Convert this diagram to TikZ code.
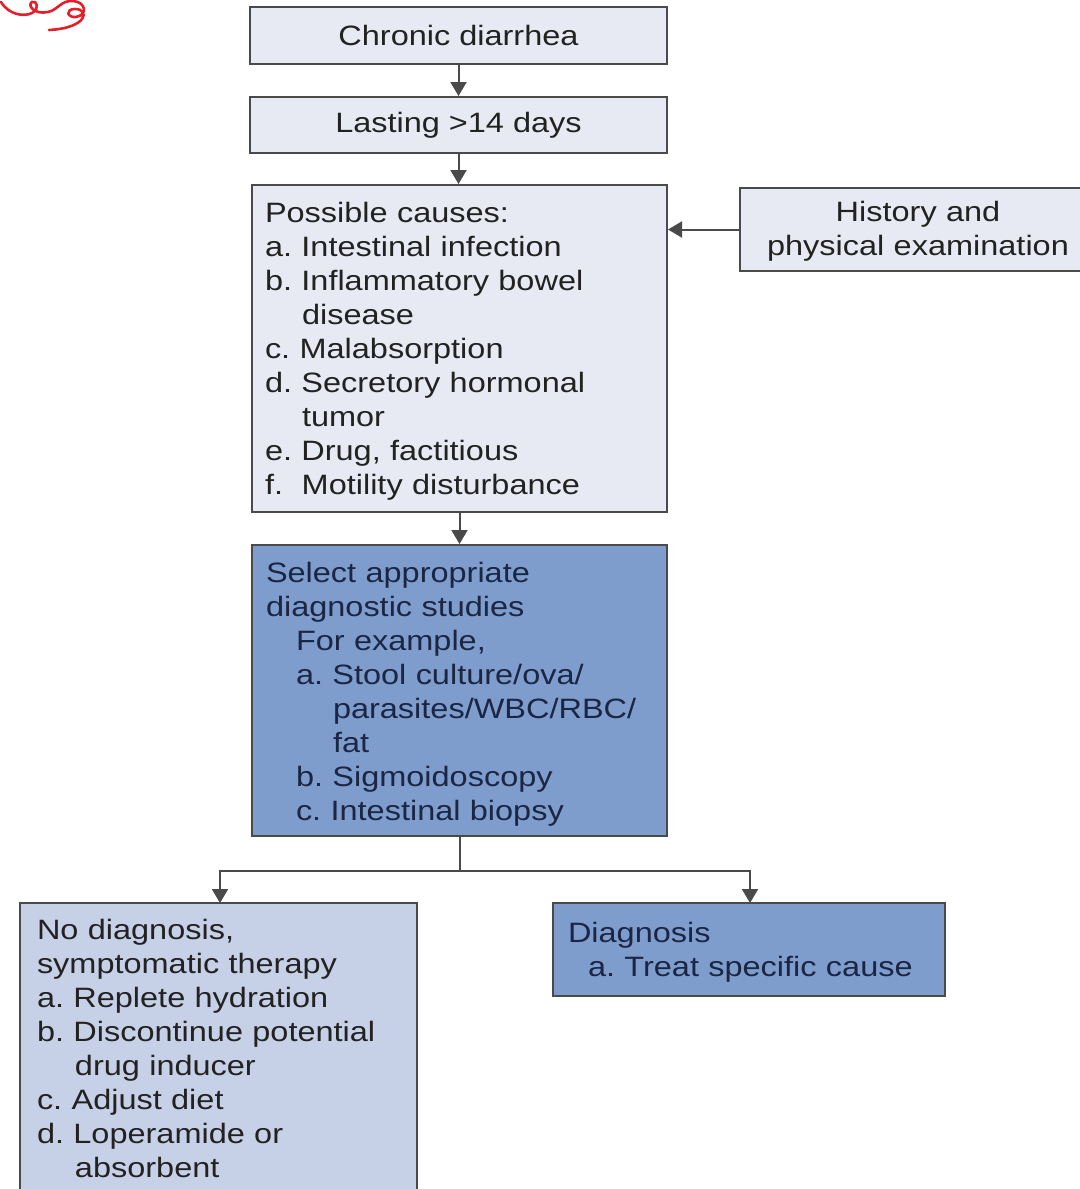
\documentclass[tikz,border=0pt]{standalone}
\usepackage{fontspec}
\setmainfont[FakeStretch=1.16]{Liberation Sans}
\usetikzlibrary{arrows.meta}
\definecolor{lightbox}{HTML}{E7EAF3}
\definecolor{darkbox}{HTML}{7F9DCC}
\definecolor{midbox}{HTML}{C6D0E7}
\definecolor{bordercol}{HTML}{4A4A4A}
\definecolor{txtgray}{HTML}{222222}
\definecolor{txtnavy}{HTML}{1A2644}
\definecolor{scribble}{HTML}{E0202A}
\frenchspacing
\newcommand{\topstrut}[1]{\rule{0pt}{#1}}
\begin{document}
\begin{tikzpicture}[x=0.5pt,y=-0.5pt,
  basebox/.style={draw=bordercol, line width=1pt, inner ysep=0pt,
    font=\fontsize{14pt}{17pt}\selectfont},
  graybox/.style={basebox, fill=lightbox, text=txtgray},
  bluebox/.style={basebox, fill=darkbox, text=txtnavy},
  paleblue/.style={basebox, fill=midbox, text=txtgray},
  arr/.style={draw=bordercol, line width=1pt, -{Triangle[width=8pt,length=7pt]}},
  conn/.style={draw=bordercol, line width=1pt}]
\useasboundingbox (0,0) rectangle (1080,1189);
\clip (0,0) rectangle (1080,1189);

% boxes
\node[graybox, inner xsep=0pt, minimum width=208.5pt, minimum height=28.5pt] (cd) at (458.5,35.5) {Chronic diarrhea};
\node[graybox, inner xsep=0pt, minimum width=208.5pt, minimum height=28pt] (ld) at (458.5,125) {\raisebox{-0.8pt}{Lasting >14 days}};
\node[graybox, inner xsep=6.5pt, text width=194.5pt, minimum height=163.5pt, align=left] (pc) at (459.5,348.5)
 {\topstrut{13.2pt}Possible causes:\\
  a. Intestinal infection\\
  b. Inflammatory bowel\\
  \hspace*{18.5pt}disease\\
  c. Malabsorption\\
  d. Secretory hormonal\\
  \hspace*{18.5pt}tumor\\
  e. Drug, factitious\\
  f.\ \ Motility disturbance};
\node[graybox, inner xsep=0pt, text width=178pt, minimum height=41.5pt, align=center] (hist) at (918,229.5)
 {\topstrut{12.2pt}History and\\physical examination};
\node[bluebox, inner xsep=7pt, text width=193.5pt, minimum height=145.5pt, align=left] (sel) at (459.5,690.5)
 {\topstrut{14.2pt}Select appropriate\\
  diagnostic studies\\
  \hspace*{15pt}For example,\\
  \hspace*{15pt}a. Stool culture/ova/\\
  \hspace*{33.5pt}parasites/WBC/RBC/\\
  \hspace*{33.5pt}fat\\
  \hspace*{15pt}b. Sigmoidoscopy\\
  \hspace*{15pt}c. Intestinal biopsy};
\node[paleblue, inner xsep=8.5pt, text width=181.5pt, minimum height=148.5pt, align=left] (nd) at (218.5,1051.5)
 {No diagnosis,\\
  symptomatic therapy\\
  a. Replete hydration\\
  b. Discontinue potential\\
  \hspace*{19pt}drug inducer\\
  c. Adjust diet\\
  d. Loperamide or\\
  \hspace*{19pt}absorbent\rule[-3pt]{0pt}{1pt}};
\node[bluebox, inner xsep=7.5pt, text width=181pt, minimum height=46.5pt, align=left] (dg) at (749,949.5)
 {\topstrut{13.2pt}Diagnosis\\
  \hspace*{10pt}a. Treat specific cause};

% connectors
\draw[arr] (cd.south) -- (ld.north);
\draw[arr] (ld.south) -- (ld.south |- pc.north);
\draw[arr] (hist.west) -- (hist.west -| pc.east);
\draw[arr] (pc.south) -- (sel.north);
\draw[conn] (sel.south) -- ++(0,34) coordinate (br);
\coordinate (ndtop) at (220,903);
\coordinate (dgtop) at (750,903);
\draw[arr] (br) -| (ndtop);
\draw[arr] (br) -| (dgtop);

% red scribble
\draw[scribble, line width=1.3pt, line cap=round]
  (1,2) .. controls (9,15) and (24,17) .. (32,13)
  .. controls (40,9) and (37,0) .. (32,2)
  .. controls (27,5) and (34,15) .. (48,12)
  .. controls (58,10) and (61,0) .. (73,1)
  .. controls (86,2) and (88,15) .. (76,17)
  .. controls (67,18) and (65,9) .. (75,9)
  .. controls (90,9) and (88,28) .. (49,30);
\end{tikzpicture}
\end{document}
